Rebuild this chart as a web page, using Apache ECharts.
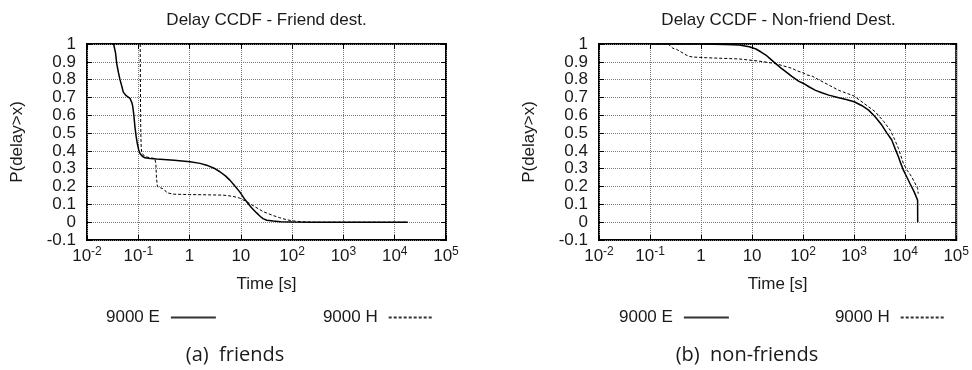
<!DOCTYPE html>
<html>
<head>
<meta charset="utf-8">
<title>Delay CCDF</title>
<script src="https://cdn.jsdelivr.net/npm/echarts@6/dist/echarts.min.js"></script>
<style>
  html, body { margin: 0; padding: 0; background: #fff; }
  #chart { width: 972px; height: 370px; }
</style>
</head>
<body>
<div id="chart"></div>
<script>
// x = delay [s], y = P(delay > x)
const friendsE = [
  [0.033, 1], [0.036, 0.95], [0.038, 0.89], [0.041, 0.84], [0.044, 0.8], [0.048, 0.76],
  [0.051, 0.73], [0.058, 0.71], [0.069, 0.695], [0.075, 0.67], [0.078, 0.65], [0.082, 0.6],
  [0.086, 0.535], [0.091, 0.48], [0.096, 0.44], [0.102, 0.405], [0.108, 0.386], [0.12, 0.37],
  [0.135, 0.361], [0.17, 0.357], [0.228, 0.354], [0.5, 0.348], [1.02, 0.339], [1.6, 0.33],
  [2.15, 0.32], [3, 0.303], [3.9, 0.283], [5, 0.26], [6.1, 0.236], [7.8, 0.2], [9.5, 0.17],
  [11.5, 0.135], [13.8, 0.105], [16.5, 0.078], [20.3, 0.052], [24, 0.032], [27, 0.02],
  [32, 0.011], [43, 0.006], [60, 0.003], [100, 0.001], [300, 0], [18000, 0]
];
const friendsH = [
  [0.109, 1], [0.11, 0.8], [0.111, 0.6], [0.112, 0.5], [0.114, 0.42], [0.117, 0.39],
  [0.13, 0.372], [0.15, 0.365], [0.21, 0.357], [0.22, 0.33], [0.226, 0.25], [0.236, 0.2],
  [0.26, 0.195], [0.3, 0.188], [0.33, 0.18], [0.36, 0.165], [0.385, 0.161], [0.5, 0.157],
  [1, 0.155], [4.5, 0.152], [7, 0.145], [9.5, 0.135], [13, 0.115], [18, 0.09], [27, 0.06],
  [40, 0.04], [57, 0.025], [80, 0.013], [105, 0.007], [150, 0.003], [250, 0], [18000, 0]
];
const nonFriendsE = [
  [0.1, 1], [1, 1], [3, 0.997], [5.6, 0.995], [8.8, 0.985], [11.9, 0.972], [15, 0.955],
  [18.6, 0.938], [23, 0.915], [29, 0.89], [37, 0.865], [45.6, 0.845], [60, 0.818],
  [82.8, 0.79], [100, 0.78], [130, 0.76], [175, 0.74], [240, 0.725], [318, 0.713],
  [500, 0.698], [700, 0.688], [1000, 0.676], [1400, 0.655], [1920, 0.629], [2600, 0.59],
  [3480, 0.545], [4400, 0.5], [5460, 0.461], [6400, 0.41], [7370, 0.367], [8200, 0.33],
  [9230, 0.292], [10700, 0.255], [12400, 0.217], [15000, 0.17], [17500, 0.124], [17600, 0]
];
const nonFriendsH = [
  [0.224, 1], [0.25, 0.99], [0.28, 0.976], [0.33, 0.97], [0.38, 0.96], [0.45, 0.948],
  [0.51, 0.938], [0.6, 0.93], [0.69, 0.927], [1.26, 0.923], [5.6, 0.916], [13.7, 0.904],
  [20, 0.897], [29, 0.89], [40, 0.878], [61, 0.863], [75, 0.85], [100, 0.838], [120, 0.826],
  [150, 0.82], [200, 0.8], [318, 0.77], [500, 0.74], [1000, 0.708], [1500, 0.67],
  [2590, 0.62], [3800, 0.565], [5080, 0.517], [6200, 0.465], [7370, 0.414], [9230, 0.33],
  [11000, 0.29], [13400, 0.255], [15500, 0.22], [17500, 0.19], [18000, 0.16]
];

const seriesNames = ["9000 E", "9000 H"];
const panelTitles = ["Delay CCDF - Friend dest.", "Delay CCDF - Non-friend Dest."];
const captions = ["(a)  friends", "(b)  non-friends"];
const xName = "Time [s]";
const yName = "P(delay>x)";

const FONT = "Liberation Sans, Arial, sans-serif";
const gridLefts = [87, 599];

// 10^n labels with superscript, 1 and 10 written out like gnuplot does
function logLabel(v) {
  const e = Math.round(Math.log10(v));
  if (e === 0) return "{b|1}";
  if (e === 1) return "{b|10}";
  return "{b|10}{s|" + e + "}";
}

function yLabel(v) {
  const r = Math.round(v * 10) / 10;
  if (r === 0) return "0";
  if (r === 1) return "1";
  return r.toFixed(1);
}

const gridLine = { show: true, lineStyle: { color: "#7a7a7a", type: [1, 1], width: 1 } };
const tick = { show: true, inside: true, length: 5, lineStyle: { color: "#000", width: 1 } };
const noLine = { show: false, onZero: false };

const chart = echarts.init(document.getElementById("chart"));

const grids = [], xAxes = [], yAxes = [], series = [], titles = [], legends = [], graphics = [];

[0, 1].forEach(i => {
  grids.push({ left: gridLefts[i], top: 44, width: 359, height: 196, show: true,
    borderColor: "#000", borderWidth: 2, backgroundColor: "transparent" });

  titles.push({ text: panelTitles[i], left: gridLefts[i] + 179.5, top: 12, padding: 0,
    textAlign: "center",
    textStyle: { fontFamily: FONT, fontSize: 17, fontWeight: "normal", color: "#1a1a1a" } });

  // bottom x axis with labels, top copy only for the inner ticks
  xAxes.push({
    type: "log", logBase: 10, min: 0.01, max: 100000, gridIndex: i, splitNumber: 7,
    name: xName, nameLocation: "middle", nameGap: 36,
    nameTextStyle: { fontFamily: FONT, fontSize: 17, color: "#1a1a1a" },
    axisLine: noLine, axisTick: tick, minorTick: { show: false },
    splitLine: gridLine,
    axisLabel: {
      margin: 6, formatter: logLabel,
      rich: {
        b: { fontFamily: FONT, fontSize: 17, lineHeight: 21, color: "#1a1a1a" },
        s: { fontFamily: FONT, fontSize: 12, lineHeight: 12, verticalAlign: "top", color: "#1a1a1a" }
      }
    }
  });
  xAxes.push({
    type: "log", logBase: 10, min: 0.01, max: 100000, gridIndex: i, splitNumber: 7,
    position: "top", axisLine: noLine, axisTick: tick,
    axisLabel: { show: false }, splitLine: { show: false }, minorTick: { show: false }
  });

  yAxes.push({
    type: "value", min: -0.1, max: 1, interval: 0.1, gridIndex: i,
    name: yName, nameLocation: "middle", nameGap: 61, nameRotate: 90,
    nameTextStyle: { fontFamily: FONT, fontSize: 17, color: "#1a1a1a" },
    axisLine: noLine, axisTick: tick, splitLine: gridLine,
    axisLabel: { margin: 11, formatter: yLabel, fontFamily: FONT, fontSize: 17, color: "#1a1a1a" }
  });
  yAxes.push({
    type: "value", min: -0.1, max: 1, interval: 0.1, gridIndex: i, position: "right",
    axisLine: noLine, axisTick: tick, axisLabel: { show: false }, splitLine: { show: false }
  });

  legends.push({
    data: seriesNames, left: i === 0 ? 106 : 619, top: 309, padding: 0, align: "right",
    itemWidth: 45, itemHeight: 12, itemGap: i === 0 ? 106 : 105,
    selectedMode: false,
    itemStyle: { opacity: 0 },
    lineStyle: { color: "#333" },
    textStyle: { fontFamily: FONT, fontSize: 17, color: "#1a1a1a", padding: [0, 6, 0, 0] }
  });

  graphics.push({
    type: "text", x: i === 0 ? 235 : 747, y: 355,
    style: { text: captions[i], font: '20px "Open Sans"', fill: "#1a1a1a",
      textAlign: "center", textVerticalAlign: "middle" }
  });
});

const panelData = [[friendsE, friendsH], [nonFriendsE, nonFriendsH]];
panelData.forEach((pair, i) => {
  series.push({
    name: seriesNames[0], type: "line", data: pair[0], xAxisIndex: i * 2, yAxisIndex: i * 2,
    symbol: "none", smooth: false, lineStyle: { color: "#000", width: 1.5, type: "solid" },
    itemStyle: { color: "#000" }, animation: false
  });
  series.push({
    name: seriesNames[1], type: "line", data: pair[1], xAxisIndex: i * 2, yAxisIndex: i * 2,
    symbol: "none", smooth: false, lineStyle: { color: "#000", width: 1, type: [3, 2] },
    itemStyle: { color: "#000" }, animation: false
  });
});

chart.setOption({
  backgroundColor: "#fff",
  animation: false,
  title: titles,
  legend: legends,
  grid: grids,
  xAxis: xAxes,
  yAxis: yAxes,
  series: series,
  graphic: graphics
});
</script>
</body>
</html>
